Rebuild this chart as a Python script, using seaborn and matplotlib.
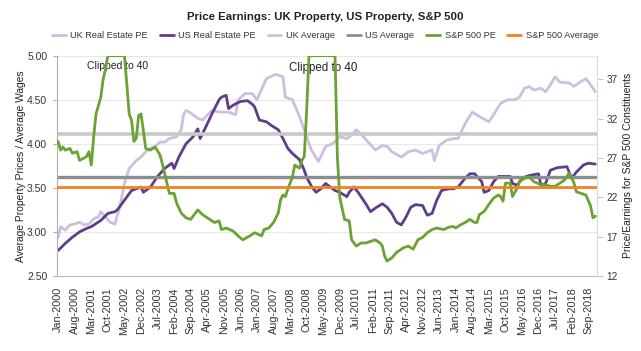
import matplotlib
matplotlib.use("Agg")
import matplotlib.pyplot as plt
import numpy as np
import seaborn as sns
from matplotlib.lines import Line2D
from matplotlib.ticker import FixedLocator, FormatStrFormatter

# month index 0 = Jan-2000, 227 = Dec-2018
tick_labels = [
    "Jan-2000", "Aug-2000", "Mar-2001", "Oct-2001", "May-2002", "Dec-2002",
    "Jul-2003", "Feb-2004", "Sep-2004", "Apr-2005", "Nov-2005", "Jun-2006",
    "Jan-2007", "Aug-2007", "Mar-2008", "Oct-2008", "May-2009", "Dec-2009",
    "Jul-2010", "Feb-2011", "Sep-2011", "Apr-2012", "Nov-2012", "Jun-2013",
    "Jan-2014", "Aug-2014", "Mar-2015", "Oct-2015", "May-2016", "Dec-2016",
    "Jul-2017", "Feb-2018", "Sep-2018",
]
n_months = 228

uk_month = [0, 1, 3, 5, 7, 9, 11, 13, 15, 17, 18, 20, 22, 24, 26, 28, 30, 33, 35, 37,
            39, 41, 43, 45, 47, 50, 52, 53, 54, 56, 59, 61, 65, 68, 72, 75, 76, 79, 82, 84,
            88, 92, 95, 96, 99, 102, 105, 107, 110, 113, 116, 119, 122, 124, 126, 129, 131,
            134, 137, 139, 141, 145, 148, 151, 154, 158, 159, 161, 164, 167, 169, 172, 175,
            178, 182, 184, 187, 190, 193, 195, 197, 199, 201, 204, 206, 208, 210, 212, 216,
            218, 220, 223, 225, 227]
uk_pe = [2.94, 3.06, 3.02, 3.08, 3.09, 3.11, 3.08, 3.09, 3.15, 3.17, 3.23, 3.17, 3.11, 3.09,
         3.28, 3.55, 3.72, 3.81, 3.85, 3.91, 3.95, 3.97, 4.02, 4.02, 4.06, 4.08, 4.16, 4.33,
         4.38, 4.35, 4.29, 4.27, 4.38, 4.36, 4.36, 4.33, 4.50, 4.57, 4.57, 4.50, 4.74, 4.79,
         4.76, 4.53, 4.50, 4.31, 4.08, 3.93, 3.80, 3.97, 4.00, 4.08, 4.06, 4.10, 4.16, 4.08,
         4.02, 3.93, 3.98, 3.97, 3.91, 3.85, 3.91, 3.93, 3.89, 3.93, 3.81, 3.98, 4.04, 4.06,
         4.06, 4.23, 4.36, 4.31, 4.25, 4.33, 4.46, 4.50, 4.50, 4.53, 4.63, 4.65, 4.61, 4.63,
         4.59, 4.67, 4.76, 4.70, 4.69, 4.65, 4.69, 4.74, 4.67, 4.59]

us_month = [0, 3, 6, 9, 12, 14, 18, 21, 24, 25, 28, 31, 35, 36, 39, 42, 45, 48, 49, 51,
            54, 57, 59, 60, 62, 65, 68, 69, 71, 72, 74, 77, 80, 82, 83, 85, 88, 90, 93, 95,
            97, 99, 102, 104, 105, 107, 109, 111, 113, 115, 117, 119, 122, 123, 125, 127,
            130, 132, 134, 137, 139, 141, 143, 145, 147, 149, 151, 154, 156, 158, 160, 162,
            165, 167, 169, 172, 174, 176, 177, 179, 180, 182, 184, 186, 189, 191, 192, 194,
            196, 199, 203, 204, 206, 208, 211, 215, 217, 219, 222, 224, 227]
us_pe = [2.79, 2.87, 2.94, 3.00, 3.04, 3.06, 3.13, 3.21, 3.23, 3.25, 3.36, 3.47, 3.51, 3.45,
         3.51, 3.63, 3.72, 3.78, 3.72, 3.85, 4.00, 4.08, 4.17, 4.06, 4.17, 4.34, 4.50, 4.53,
         4.55, 4.40, 4.44, 4.48, 4.49, 4.45, 4.42, 4.27, 4.25, 4.21, 4.16, 4.06, 3.95, 3.89,
         3.82, 3.70, 3.62, 3.52, 3.45, 3.49, 3.55, 3.51, 3.47, 3.45, 3.40, 3.45, 3.51, 3.44,
         3.32, 3.23, 3.27, 3.32, 3.28, 3.21, 3.11, 3.08, 3.17, 3.28, 3.31, 3.30, 3.19, 3.21,
         3.36, 3.47, 3.49, 3.49, 3.51, 3.61, 3.66, 3.66, 3.63, 3.57, 3.45, 3.47, 3.57, 3.63,
         3.63, 3.63, 3.55, 3.53, 3.61, 3.64, 3.66, 3.53, 3.55, 3.70, 3.73, 3.74, 3.61, 3.68,
         3.76, 3.78, 3.77]

# S&P 500 PE, values above 40 shown clipped to 40
sp_month = [0, 1, 2, 3, 5, 6, 8, 9, 11, 12, 13, 14, 15, 16, 18, 19, 20, 21, 28, 29, 30, 31,
            32, 33, 34, 35, 36, 37, 39, 41, 43, 44, 46, 47, 49, 50, 52, 54, 56, 57, 59, 61,
            64, 66, 68, 69, 71, 74, 76, 78, 81, 83, 86, 87, 89, 91, 93, 94, 95, 96, 97, 99,
            100, 102, 103, 104, 105, 106, 117, 118, 119, 121, 123, 124, 126, 128, 130, 132,
            134, 136, 137, 138, 139, 141, 143, 146, 148, 150, 152, 154, 156, 158, 160, 163,
            165, 167, 168, 170, 172, 174, 176, 177, 178, 180, 182, 184, 186, 187, 188, 189,
            191, 192, 194, 195, 197, 199, 201, 204, 206, 208, 210, 212, 214, 216, 218, 219,
            221, 223, 225, 226, 227]
sp_pe = [29.1, 28.0, 28.4, 28.0, 28.2, 27.6, 27.8, 26.7, 27.0, 27.2, 27.8, 26.1, 29.7, 32.6,
         34.7, 37.0, 38.3, 40.0, 40.0, 36.4, 32.6, 31.8, 29.1, 29.5, 32.4, 32.6, 30.5, 28.2,
         28.0, 28.4, 27.4, 26.3, 23.8, 22.5, 22.5, 21.3, 20.0, 19.4, 19.2, 19.6, 20.4, 19.8,
         19.2, 18.8, 19.0, 17.9, 18.1, 17.7, 17.1, 16.6, 17.1, 17.5, 17.1, 17.9, 18.1, 18.8,
         20.0, 21.7, 22.3, 22.1, 23.0, 24.6, 26.1, 25.7, 26.7, 27.2, 33.0, 40.0, 40.0, 27.0,
         22.0, 19.2, 19.0, 16.6, 15.8, 16.2, 16.2, 16.4, 16.6, 16.2, 15.8, 14.5, 13.9, 14.3,
         15.0, 15.6, 15.8, 15.4, 16.6, 16.9, 17.5, 17.9, 18.1, 17.9, 18.2, 18.3, 18.1, 18.5,
         18.8, 19.2, 18.8, 18.8, 19.8, 20.2, 21.1, 21.9, 22.3, 22.1, 21.5, 23.8, 23.8, 22.1,
         23.2, 24.0, 24.4, 24.6, 24.0, 23.6, 23.6, 23.4, 23.4, 23.8, 24.2, 25.1, 23.8, 22.7,
         22.5, 22.3, 20.9, 19.4, 19.6]

uk_avg = 4.11
us_avg = 3.625
sp_avg = 23.25

c_uk, c_us = "#cdbfe0", "#5e3d8b"
c_uk_avg, c_us_avg = "#c9c9c9", "#8e8e8e"
c_sp, c_sp_avg = "#6aa334", "#f58220"

sns.set_style("white")
plt.rcParams["font.family"] = ["Liberation Sans", "DejaVu Sans"]
narrow = ["Liberation Sans Narrow", "Liberation Sans", "DejaVu Sans"]

fig = plt.figure(figsize=(6.41, 3.51), dpi=100)
ax = fig.add_axes([57 / 641, 1 - 276 / 351, 539.5 / 641, 220.3 / 351])
ax2 = ax.twinx()

ax.yaxis.grid(True, color="#e8e8e8", lw=0.8)
ax.set_axisbelow(True)

sns.lineplot(x=uk_month, y=uk_pe, ax=ax, color=c_uk, lw=2)
sns.lineplot(x=us_month, y=us_pe, ax=ax, color=c_us, lw=2)
ax.axhline(uk_avg, color=c_uk_avg, lw=2.6)
ax.axhline(us_avg, color=c_us_avg, lw=2.4)
sns.lineplot(x=sp_month, y=sp_pe, ax=ax2, color=c_sp, lw=2)
ax2.axhline(sp_avg, color=c_sp_avg, lw=2)

ax.set_xlim(-0.5, n_months - 0.5)
ax.set_ylim(2.5, 5.0)
ax2.set_ylim(12, 40)

ax.set_xticks(np.arange(0, n_months, 7))
ax.set_xticklabels(tick_labels, rotation=90, fontsize=7.8, family=narrow, color="#333333")
ax.xaxis.set_minor_locator(FixedLocator(np.arange(-0.5, n_months, 7)))
ax.tick_params(axis="x", which="major", length=0, pad=8)
ax.tick_params(axis="x", which="minor", length=3, color="#b0b0b0", width=0.8)

ax.set_yticks(np.arange(2.5, 5.01, 0.5))
ax.yaxis.set_major_formatter(FormatStrFormatter("%.2f"))
ax.tick_params(axis="y", length=3, color="#b0b0b0", width=0.8, labelsize=7.5,
               labelcolor="#333333", pad=4, left=True)
ax2.set_yticks(np.arange(12, 38, 5))
ax2.tick_params(axis="y", length=4, color="#c8c8c8", width=0.8, labelsize=7.2,
                labelcolor="#333333", pad=3, right=True)

for s in ["top", "right"]:
    ax.spines[s].set_visible(False)
ax2.spines["top"].set_visible(False)
ax2.spines["left"].set_visible(False)
ax2.spines["bottom"].set_visible(False)
ax.spines["left"].set_color("#b0b0b0")
ax.spines["bottom"].set_color("#b8b8b8")
ax2.spines["right"].set_color("#d8d8d8")
for sp in list(ax.spines.values()) + list(ax2.spines.values()):
    sp.set_linewidth(0.8)

ax.set_xlabel("")
ax.set_ylabel("Average Property Prices / Average Wages", fontsize=7.4, va="center",
              color="#222222")
ax.yaxis.set_label_coords(-0.0673, 0.5)
ax2.set_ylabel("Price/Earnings for S&P 500 Constituents", fontsize=7.4, va="center",
               rotation=90, color="#222222")
ax2.yaxis.set_label_coords(1.058, 0.5)

ax.text(25.3, 4.88, "Clipped to 40", fontsize=7.5, ha="center", va="center", color="#222222")
ax.text(112, 4.855, "Clipped to 40", fontsize=8.3, ha="center", va="center", color="#222222")

fig.text(0.507, 1 - 17 / 351, "Price Earnings: UK Property, US Property, S&P 500",
         fontsize=8.2, fontweight="bold", ha="center", va="center", color="#222222")

handles = [Line2D([], [], color=c, lw=2) for c in
           [c_uk, c_us, c_uk_avg, c_us_avg, c_sp, c_sp_avg]]
labels = ["UK Real Estate PE", "US Real Estate PE", "UK Average", "US Average",
          "S&P 500 PE", "S&P 500 Average"]
fig.legend(handles, labels, loc="center", bbox_to_anchor=(0.507, 1 - 36 / 351), ncol=6,
           frameon=False, fontsize=6.6, handlelength=1.5, handletextpad=0.5,
           columnspacing=1.3, labelcolor="#333333")

fig.savefig("out.png", dpi=100)
